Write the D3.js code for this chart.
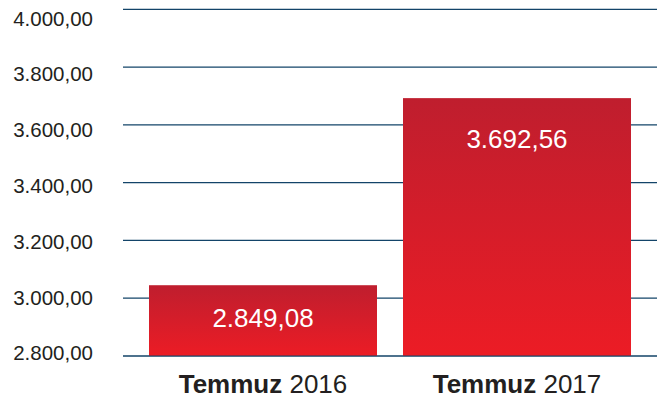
<!DOCTYPE html>
<html>
<head>
    <title>Temmuz 2016 / 2017</title>
    <script src="https://d3js.org/d3.v7.min.js"></script>
    <style>
        body {
            margin: 0;
            padding: 0;
            background-color: #ffffff;
        }
        text { font-family: "Liberation Sans", Arial, Helvetica, sans-serif; }
    </style>
</head>
<body>
<div class="viz"></div>
<script>
    // data
    var months = ["Temmuz", "Temmuz"];
    var years = ["2016", "2017"];
    var valueLabels = ["2.849,08", "3.692,56"];
    // drawn bar heights in axis units (the 2016 bar is drawn taller than its label)
    var barValues = [3045, 3692.56];
    var tickValues = [2800, 3000, 3200, 3400, 3600, 3800, 4000];

    var width = 657,
        height = 401;

    var svg = d3.select(".viz").append("svg")
        .attr("width", width)
        .attr("height", height);

    var defs = svg.append("defs");
    var grad = defs.append("linearGradient")
        .attr("id", "barGrad")
        .attr("x1", 0).attr("y1", 0)
        .attr("x2", 0).attr("y2", 1);
    grad.append("stop").attr("offset", "0%").attr("stop-color", "#bf1e2e");
    grad.append("stop").attr("offset", "100%").attr("stop-color", "#ec1c25");

    var y = d3.scaleLinear()
        .domain([2800, 4000])
        .range([356, 9.3]);

    // the tick labels sit on their own, slightly tighter spacing
    var yLabel = d3.scaleLinear()
        .domain([2800, 4000])
        .range([353, 18.3]);

    var x = d3.scaleBand()
        .domain(years)
        .range([123, 657])
        .paddingInner(0.1024)
        .paddingOuter(0.1024);

    // tick labels with Turkish number format
    var fmt = d3.formatLocale({ decimal: ",", thousands: ".", grouping: [3], currency: ["", " TL"] }).format(",.2f");

    var gridColor = "#134469";

    var grid = svg.append("g");
    grid.selectAll("line")
        .data(tickValues)
        .enter()
        .append("line")
        .attr("x1", 123)
        .attr("x2", width)
        .attr("y1", function(d) { return y(d); })
        .attr("y2", function(d) { return y(d); })
        .attr("stroke", gridColor)
        .attr("stroke-width", 1.2);

    svg.append("g").selectAll("text")
        .data(tickValues)
        .enter()
        .append("text")
        .text(function(d) { return fmt(d); })
        .attr("x", 93)
        .attr("y", function(d) { return yLabel(d); })
        .attr("dy", "0.36em")
        .attr("text-anchor", "end")
        .attr("fill", "#231f20")
        .style("font-size", "20.5px");

    svg.append("g").selectAll("rect")
        .data(barValues)
        .enter()
        .append("rect")
        .attr("x", function(d, i) { return x(years[i]); })
        .attr("y", function(d) { return y(d); })
        .attr("width", x.bandwidth())
        .attr("height", function(d) { return y(2800) - y(d); })
        .attr("fill", "url(#barGrad)");

    // baseline on top of the bars
    svg.append("line")
        .attr("x1", 123)
        .attr("x2", width)
        .attr("y1", y(2800))
        .attr("y2", y(2800))
        .attr("stroke", gridColor)
        .attr("stroke-width", 1.2);

    svg.append("g").selectAll("text")
        .data(barValues)
        .enter()
        .append("text")
        .text(function(d, i) { return valueLabels[i]; })
        .attr("x", function(d, i) { return x(years[i]) + x.bandwidth() / 2; })
        .attr("y", function(d) {
            var top = y(d), mid = (y(d) + y(2800)) / 2;
            return Math.min(top + 41, mid - 3);
        })
        .attr("dy", "0.36em")
        .attr("text-anchor", "middle")
        .attr("fill", "#ffffff")
        .style("font-size", "26px");

    var cats = svg.append("g").selectAll("text")
        .data(years)
        .enter()
        .append("text")
        .attr("x", function(d) { return x(d) + x.bandwidth() / 2; })
        .attr("y", 393)
        .attr("text-anchor", "middle")
        .attr("fill", "#231f20")
        .style("font-size", "26px");
    cats.append("tspan")
        .style("font-weight", "bold")
        .text(function(d, i) { return months[i]; });
    cats.append("tspan")
        .text(function(d) { return " " + d; });
</script>
</body>
</html>
